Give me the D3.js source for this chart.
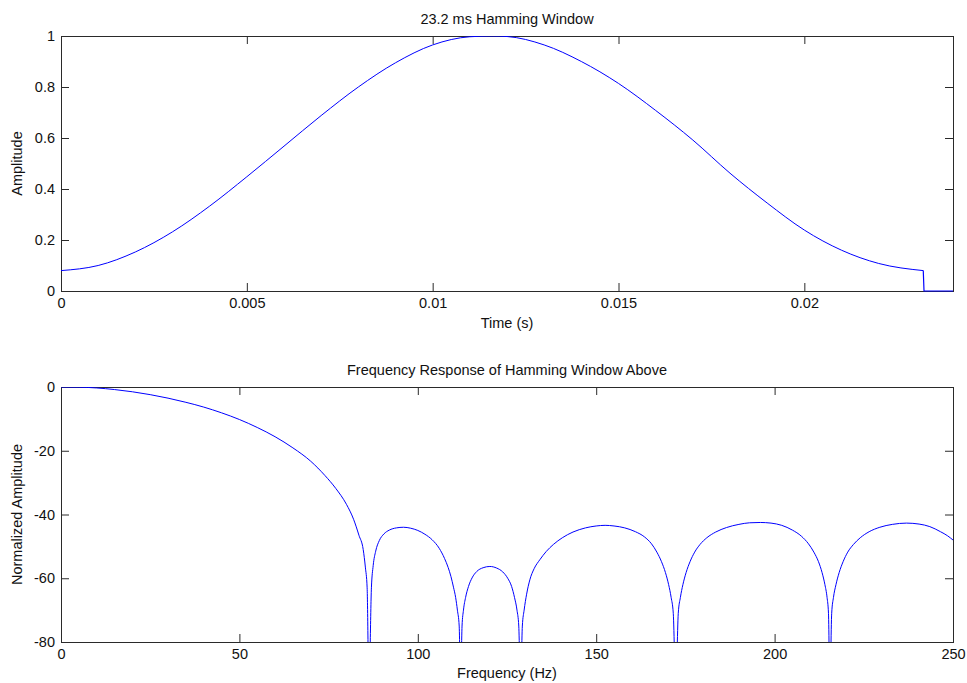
<!DOCTYPE html>
<html>
<head>
<meta charset="utf-8">
<script src="https://cdn.jsdelivr.net/npm/d3@7"></script>
<style>
  html, body { margin: 0; padding: 0; background: #fff; }
  svg { display: block; }
  text { font-family: "Liberation Sans", Arial, Helvetica, sans-serif; font-size: 14.5px; fill: #111; }
</style>
</head>
<body>
<svg id="chart" width="967" height="683"></svg>
<script>
// ---- Hamming window (time domain) ----
const windowTime = [0, 0.001, 0.002, 0.003, 0.004, 0.005, 0.006, 0.007, 0.008, 0.009, 0.010,
  0.011, 0.0116, 0.012, 0.013, 0.014, 0.015, 0.016, 0.017, 0.018, 0.019, 0.020, 0.021, 0.022, 0.0232];
const windowAmp = [0.08, 0.10, 0.153, 0.232, 0.333, 0.448, 0.568, 0.688, 0.800, 0.895, 0.965,
  0.997, 1.0, 0.998, 0.965, 0.900, 0.814, 0.708, 0.592, 0.462, 0.345, 0.239, 0.160, 0.108, 0.08];
// zero padding after the window ends
const padTime = [0.0232, 0.02322, 0.024];
const padAmp = [0.08, 0, 0];

const timeTicks = [0, 0.005, 0.01, 0.015, 0.02];
const timeTickLabels = ["0", "0.005", "0.01", "0.015", "0.02"];
const ampTicks = [0, 0.2, 0.4, 0.6, 0.8, 1];
const ampTickLabels = ["0", "0.2", "0.4", "0.6", "0.8", "1"];

// ---- Frequency response (dB), nulls run below the -80 dB floor ----
const respFreq = [
  // main lobe
  0, 5, 10, 15, 20, 25, 30, 35, 40, 45, 50, 55, 60, 65, 70, 74, 77, 80, 82, 83.5, 84.7, 85.3, 85.8, 86.3,
  // first side lobe
  87.0, 87.5, 88.2, 89.2, 90.5, 92, 94, 96, 98, 100, 102, 104, 106, 107.5, 108.5, 109.3, 110, 110.6, 111.1, 111.6, 112.0,
  // small lobe
  112.4, 112.8, 113.4, 114.2, 115.2, 116.5, 118.3, 120.2, 122.1, 123.8, 125.2, 126.3, 127.1, 127.8, 128.3, 128.8,
  // third lobe
  129.3, 129.8, 130.5, 131.4, 132.6, 134.2, 136, 138, 140.5, 143.5, 147, 150, 152.5, 155, 158, 161, 163.5, 165.5, 167, 168.3, 169.4, 170.3, 171, 171.6, 172.3,
  // fourth lobe
  173, 173.6, 174.3, 175.2, 176.3, 177.6, 179.1, 181, 183.5, 186.5, 190, 193, 196, 199, 202, 205, 207.5, 209.5, 211, 212.3, 213.3, 214.1, 214.7, 215.1, 215.5,
  // fifth lobe
  216, 216.5, 217.2, 218.1, 219.2, 220.5, 222.1, 224, 226.5, 229.5, 233, 237, 240.5, 243.5, 246.5, 248.5, 250
];
const respDb = [
  0, -0.05, -0.3, -0.8, -1.5, -2.4, -3.5, -4.8, -6.3, -8.1, -10.2, -12.7, -15.6, -19.1, -23.3, -27.8, -31.8, -36.8, -41.5, -46.5, -51, -56.5, -63, -95,
  -63, -56, -51.5, -48.2, -46.1, -44.9, -44.2, -44.0, -44.3, -45.0, -46.2, -47.9, -50.6, -53.8, -56.6, -59.5, -62.8, -66, -70, -75, -95,
  -75, -70, -66, -62.6, -59.9, -57.9, -56.7, -56.3, -56.8, -58.0, -60.0, -62.6, -66, -70, -75, -95,
  -75, -70, -65, -60.5, -57.0, -54.2, -51.6, -49.4, -47.3, -45.5, -44.2, -43.6, -43.4, -43.6, -44.2, -45.4, -47.0, -49.2, -51.8, -54.8, -58.2, -62, -66, -71, -95,
  -71, -66, -62, -58.2, -54.8, -51.8, -49.4, -47.3, -45.5, -44.1, -43.1, -42.6, -42.5, -42.7, -43.4, -44.9, -46.8, -49.2, -51.8, -54.8, -58.2, -62, -66, -71, -95,
  -71, -66, -62, -58.2, -54.8, -51.8, -49.4, -47.3, -45.4, -44.0, -43.1, -42.7, -43.0, -43.8, -45.4, -46.7, -48.0
];

const freqTicks = [0, 50, 100, 150, 200, 250];
const dbTicks = [-80, -60, -40, -20, 0];

const svg = d3.select("#chart");
const axisColor = "#2a2a2a";
const lineColor = "#0000ff";
const tickLen = 8;

function panel(opts) {
  const { left, top, width, height, id } = opts;
  const g = svg.append("g").attr("transform", `translate(${left},${top})`);
  const x = d3.scaleLinear().domain(opts.xDomain).range([0, width]);
  const y = d3.scaleLinear().domain(opts.yDomain).range([height, 0]);

  svg.append("defs").append("clipPath").attr("id", id)
    .append("rect").attr("x", 0).attr("y", 0).attr("width", width).attr("height", height);

  // bottom axis with labels, ticks pointing inward
  const xb = g.append("g").attr("transform", `translate(0,${height})`)
    .call(d3.axisBottom(x).tickValues(opts.xTicks).tickSize(-tickLen).tickPadding(7)
      .tickFormat((d, i) => opts.xLabels[i]));
  // top axis: ticks only
  const xt = g.append("g")
    .call(d3.axisTop(x).tickValues(opts.xTicks).tickSize(-tickLen).tickFormat(""));
  // left axis with labels
  const yl = g.append("g")
    .call(d3.axisLeft(y).tickValues(opts.yTicks).tickSize(-tickLen).tickPadding(6)
      .tickFormat((d, i) => opts.yLabels[i]));
  // right axis: ticks only
  const yr = g.append("g").attr("transform", `translate(${width},0)`)
    .call(d3.axisRight(y).tickValues(opts.yTicks).tickSize(-tickLen).tickFormat(""));

  [xb, xt, yl, yr].forEach(a => {
    a.select(".domain").remove();
    a.selectAll("line").attr("stroke", axisColor);
    a.selectAll("text").attr("fill", "#111").style("font-size", "14.5px")
      .attr("font-family", null);
  });
  xb.selectAll(".tick text").attr("dy", "0.71em");

  g.append("rect").attr("x", 0).attr("y", 0).attr("width", width).attr("height", height)
    .attr("fill", "none").attr("stroke", axisColor).attr("stroke-width", 1)
    .attr("shape-rendering", "crispEdges");

  const plot = g.append("g").attr("clip-path", `url(#${id})`);

  g.append("text").attr("x", width / 2).attr("y", opts.titleY)
    .attr("text-anchor", "middle").text(opts.title);
  g.append("text").attr("x", width / 2).attr("y", opts.xLabelY)
    .attr("text-anchor", "middle").text(opts.xLabel);
  g.append("text").attr("transform", `translate(${opts.yLabelX},${height / 2}) rotate(-90)`)
    .attr("text-anchor", "middle").text(opts.yLabel);

  return { g, plot, x, y };
}

// ---- top panel ----
const p1 = panel({
  id: "clipTop", left: 61, top: 36, width: 892, height: 255,
  xDomain: [0, 0.024], yDomain: [0, 1],
  xTicks: timeTicks, xLabels: timeTickLabels,
  yTicks: ampTicks, yLabels: ampTickLabels,
  title: "23.2 ms Hamming Window", titleY: -12,
  xLabel: "Time (s)", xLabelY: 292,
  yLabel: "Amplitude", yLabelX: -39
});
const winPts = windowTime.map((t, i) => [t, windowAmp[i]]);
p1.plot.append("path")
  .attr("d", d3.line().x(d => p1.x(d[0])).y(d => p1.y(d[1])).curve(d3.curveMonotoneX)(winPts))
  .attr("fill", "none").attr("stroke", lineColor).attr("stroke-width", 1);
const padPts = padTime.map((t, i) => [t, padAmp[i]]);
p1.g.append("path")
  .attr("d", d3.line().x(d => p1.x(d[0])).y(d => p1.y(d[1])).curve(d3.curveLinear)(padPts))
  .attr("fill", "none").attr("stroke", lineColor).attr("stroke-width", 1.2);

// ---- bottom panel ----
const p2 = panel({
  id: "clipBottom", left: 61, top: 387, width: 892, height: 255,
  xDomain: [0, 250], yDomain: [-80, 0],
  xTicks: freqTicks, xLabels: freqTicks.map(String),
  yTicks: dbTicks, yLabels: dbTicks.map(String),
  title: "Frequency Response of Hamming Window Above", titleY: -12,
  xLabel: "Frequency (Hz)", xLabelY: 291,
  yLabel: "Normalized Amplitude", yLabelX: -39
});
const respPts = respFreq.map((f, i) => [f, respDb[i]]);
p2.plot.append("path")
  .attr("d", d3.line().x(d => p2.x(d[0])).y(d => p2.y(d[1])).curve(d3.curveMonotoneX)(respPts))
  .attr("fill", "none").attr("stroke", lineColor).attr("stroke-width", 1);
</script>
</body>
</html>
